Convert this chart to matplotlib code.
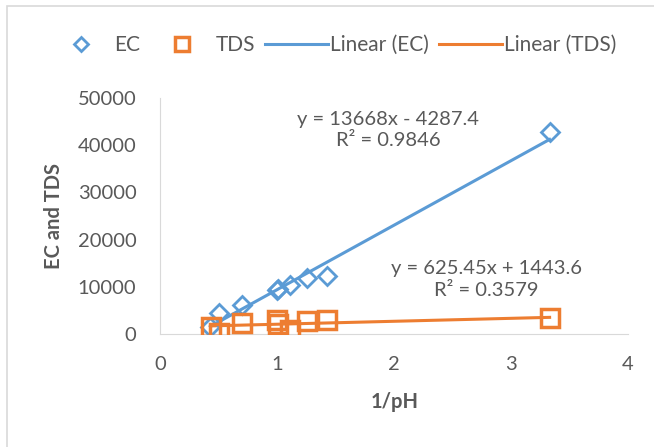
import matplotlib.pyplot as plt
import matplotlib.patches as mpatches
from matplotlib.legend_handler import HandlerLine2D
import numpy as np

# data
ec_x = [0.43, 0.50, 0.70, 1.00, 1.01, 1.11, 1.26, 1.43, 3.33]
ec_y = [1500, 4500, 6200, 9300, 9600, 10400, 11900, 12300, 42700]
tds_x = [0.44, 0.50, 0.70, 1.00, 1.01, 1.11, 1.26, 1.43, 3.33]
tds_y = [1500, 300, 2300, 3000, 2100, 900, 2700, 3000, 3300]

ec_slope, ec_icpt = 13668, -4287.4
tds_slope, tds_icpt = 625.45, 1443.6
ec_eq = ['y = 13668x - 4287.4', 'R² = 0.9846']
tds_eq = ['y = 625.45x + 1443.6', 'R² = 0.3579']

blue = '#5B9BD5'
orange = '#ED7D31'
grey = '#595959'
fs = 14.5


class MarkerRight(HandlerLine2D):
    # excel puts the legend marker close to the label
    def get_xdata(self, legend, xdescent, ydescent, width, height, fontsize):
        xdata, _ = super().get_xdata(legend, xdescent, ydescent, width, height, fontsize)
        return xdata, [width - xdescent - 0.85 * fontsize]


plt.rcParams['font.family'] = ['Lato', 'DejaVu Sans']

fig = plt.figure(figsize=(6.54, 4.47), dpi=100)
ax = fig.add_axes([160 / 654, 1 - 334 / 447, 468 / 654, 236 / 447])

# chart border (only top/left visible in the original crop)
fig.patches.append(mpatches.Rectangle((7 / 654, -0.1), 1.2, 1 - 6 / 447 + 0.1,
                                      transform=fig.transFigure, fill=False,
                                      edgecolor='#d9d9d9', lw=1.2))

xs = np.array([min(ec_x), max(ec_x)])
ax.plot(xs, ec_slope * xs + ec_icpt, color=blue, lw=2.2, zorder=2, label='Linear (EC)')
xt = np.array([min(tds_x), max(tds_x)])
ax.plot(xt, tds_slope * xt + tds_icpt, color=orange, lw=2.2, zorder=2, label='Linear (TDS)')

ec_pts, = ax.plot(ec_x, ec_y, ls='none', marker='D', ms=9, mfc='none', mec=blue, mew=2,
                  zorder=3, label='EC')
tds_pts, = ax.plot(tds_x, tds_y, ls='none', marker='s', ms=13, mfc='none', mec=orange,
                   mew=2.5, zorder=4, label='TDS')

ax.set_xlim(0, 4)
ax.set_ylim(0, 50000)
ax.set_xticks([0, 1, 2, 3, 4])
ax.set_yticks(range(0, 50001, 10000))
ax.tick_params(length=0, labelsize=fs, labelcolor=grey)
ax.tick_params(axis='y', pad=17)
ax.tick_params(axis='x', pad=16)
for s in ['top', 'right']:
    ax.spines[s].set_visible(False)
for s in ['left', 'bottom']:
    ax.spines[s].set_color('#d9d9d9')

ax.set_xlabel('1/pH', fontsize=fs, fontweight='bold', color=grey)
ax.set_ylabel('EC and TDS', fontsize=fs, fontweight='bold', color=grey)
ax.xaxis.set_label_coords(0.502, -0.245)
ax.yaxis.set_label_coords(-0.205, 0.5)

ax.text(1.95, 43200, ec_eq[0] + '\n' + ec_eq[1], ha='center', va='center',
        fontsize=fs, color=grey, linespacing=1.3)
ax.text(2.79, 11550, tds_eq[0] + '\n' + tds_eq[1], ha='center', va='center',
        fontsize=fs, color=grey, linespacing=1.3)

h, l = ax.get_legend_handles_labels()
order = [2, 3, 0, 1]
fig.legend([h[i] for i in order], [l[i] for i in order], loc='center',
           bbox_to_anchor=(333 / 654, 1 - 45 / 447), ncol=4, frameon=False,
           fontsize=15, labelcolor=grey, handlelength=3.0, handletextpad=0.1,
           columnspacing=0.5, markerscale=0.75,
           handler_map={ec_pts: MarkerRight(), tds_pts: MarkerRight()})

fig.savefig('out.png', dpi=100)
